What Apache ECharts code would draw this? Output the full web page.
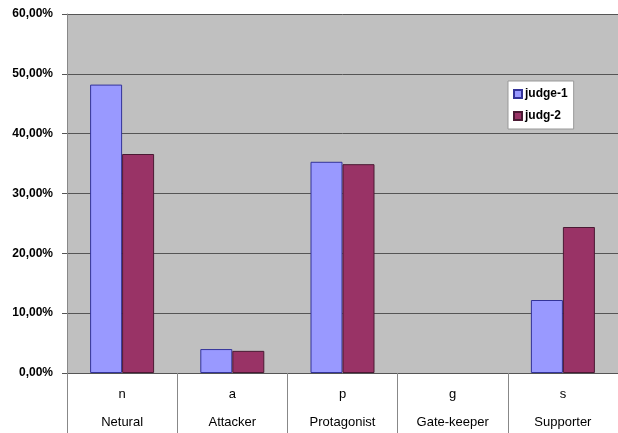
<!DOCTYPE html>
<html>
<head>
<meta charset="utf-8">
<script src="https://cdn.jsdelivr.net/npm/echarts@6/dist/echarts.min.js"></script>
<style>
  html, body { margin: 0; padding: 0; background: #fff; }
  #chart { width: 618px; height: 433px; }
</style>
</head>
<body>
<div id="chart"></div>
<script>
// data (percent)
const codes = ['n', 'a', 'p', 'g', 's'];
const roles = ['Netural', 'Attacker', 'Protagonist', 'Gate-keeper', 'Supporter'];
const judge1 = [48.2, 4.0, 35.3, 0, 12.2];
const judge2 = [36.6, 3.7, 34.9, 0, 24.4];
const seriesNames = ['judge-1', 'judg-2'];

const font = 'Liberation Sans, Arial, sans-serif';
const myChart = echarts.init(document.getElementById('chart'), null, {renderer: 'canvas'});

// zero bars get no outline, like the original
const barData = (arr) => arr.map(v => v === 0 ? {value: v, itemStyle: {borderWidth: 0}} : v);

myChart.setOption({
    animation: false,
    grid: {
        left: 67,
        right: -5,
        top: 14,
        bottom: 60,
        containLabel: false,
        show: true,
        backgroundColor: '#c0c0c0',
        borderWidth: 0
    },
    legend: {
        orient: 'vertical',
        left: 508,
        top: 81,
        backgroundColor: '#fff',
        borderColor: '#999',
        borderWidth: 1,
        padding: [7, 6, 7, 5],
        itemWidth: 8,
        itemHeight: 8,
        itemGap: 10,
        icon: 'rect',
        textStyle: {fontFamily: font, fontSize: 12, fontWeight: 'bold', color: '#000', padding: [0, 0, 0, -2]},
        data: seriesNames
    },
    xAxis: {
        type: 'category',
        data: codes,
        axisLine: {show: true, lineStyle: {color: '#555', width: 1}},
        axisTick: {show: true, length: 60, lineStyle: {color: '#888'}},
        axisLabel: {
            margin: 7,
            formatter: (v, i) => '{a|' + v + '}\n{b|' + roles[i] + '}',
            rich: {
                a: {fontFamily: font, fontSize: 13, color: '#000', lineHeight: 28},
                b: {fontFamily: font, fontSize: 13, color: '#000', lineHeight: 28}
            }
        }
    },
    yAxis: {
        type: 'value',
        min: 0,
        max: 60,
        interval: 10,
        axisLine: {show: true, lineStyle: {color: '#888'}},
        axisTick: {show: true, length: 5, lineStyle: {color: '#555'}},
        splitLine: {show: true, lineStyle: {color: '#555', width: 1}},
        axisLabel: {
            margin: 14,
            fontFamily: font,
            fontSize: 12,
            fontWeight: 'bold',
            color: '#000',
            formatter: (v) => v.toFixed(2).replace('.', ',') + '%'
        }
    },
    series: [
        {
            name: seriesNames[0],
            type: 'bar',
            data: barData(judge1),
            barWidth: 32,
            barGap: '0%',
            itemStyle: {color: '#9999ff', borderColor: '#333399', borderWidth: 1}
        },
        {
            name: seriesNames[1],
            type: 'bar',
            data: barData(judge2),
            barWidth: 32,
            itemStyle: {color: '#993366', borderColor: '#4a1a33', borderWidth: 1}
        }
    ]
});
</script>
</body>
</html>
